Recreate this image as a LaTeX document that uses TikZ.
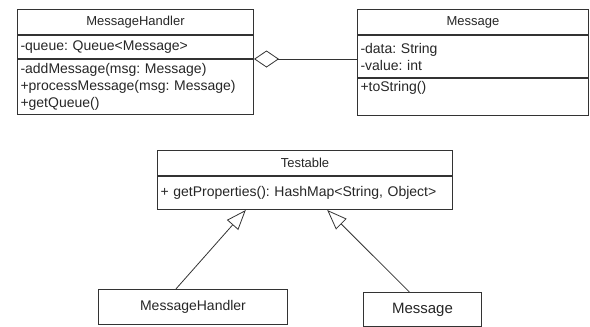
\documentclass[tikz,border=0pt]{standalone}
\usepackage{fontspec}
\setmainfont{Liberation Sans}
\usetikzlibrary{positioning,arrows.meta,calc}
\frenchspacing

\tikzset{
  box/.style={draw=black!80, line width=1pt, anchor=north west, inner xsep=3pt, inner ysep=0pt, text=black!85},
  title/.style={box, align=center, font=\fontsize{13}{15}\selectfont},
  member/.style={box, align=left, font=\fontsize{14}{17}\selectfont},
  single/.style={box, align=center, inner xsep=0pt},
  aggr/.style={draw=black!80, line width=0.8pt, {Diamond[open, length=25pt, width=17pt, line width=0.8pt]}-},
  inherit/.style={draw=black!80, line width=0.8pt, -{Triangle[open, length=20pt, width=15pt, line width=0.8pt]}}
}

\begin{document}
\begin{tikzpicture}[x=1pt, y=-1pt]
\useasboundingbox (0,0) rectangle (590,327);

% MessageHandler class
\node[title, text width=230, minimum height=25] (mhT) at (17,9) {MessageHandler};
\node[member, text width=230, minimum height=23] (mhA) at (mhT.south west) {-queue: Queue<Message>};
\node[member, text width=230, minimum height=55] (mhM) at (mhA.south west)
  {-addMessage(msg: Message)\\+processMessage(msg: Message)\\+getQueue()};

% Message class
\node[title, text width=225, minimum height=25] (msgT) at (357,9) {Message};
\node[member, text width=225, minimum height=42] (msgA) at (msgT.south west) {-data: String\\-value: int};
\node[member, text width=225, minimum height=37] (msgM) at (msgA.south west) {+toString()\\ \strut};

% aggregation
\draw[aggr] (mhM.north east) -- (mhM.north east -| msgA.west);

% Testable interface
\node[title, text width=289, minimum height=25] (tstT) at (157,150) {Testable};
\node[member, text width=289, minimum height=33] (tstM) at (tstT.south west) {+ getProperties(): HashMap<String, Object>};

% implementing classes
\node[single, minimum width=189, minimum height=35, font=\fontsize{14}{17}\selectfont] (mh2) at (98,289) {MessageHandler};
\node[single, minimum width=118, minimum height=34, font=\fontsize{15}{18}\selectfont] (msg2) at (363,292) {Message};

\draw[inherit] ($(mh2.north west)!0.41!(mh2.north east)$) -- ($(tstM.south west)!0.3!(tstM.south east)$);
\draw[inherit] ($(msg2.north west)!0.39!(msg2.north east)$) -- ($(tstM.south west)!0.575!(tstM.south east)$);
\end{tikzpicture}
\end{document}
